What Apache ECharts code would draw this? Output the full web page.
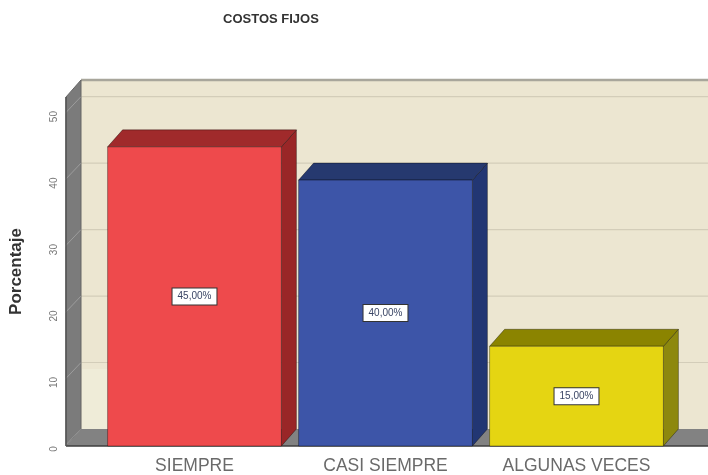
<!DOCTYPE html>
<html><head><meta charset="utf-8">
<script src="https://cdn.jsdelivr.net/npm/echarts@6/dist/echarts.min.js"></script>
<style>html,body{margin:0;padding:0;background:#fff}#c{width:708px;height:475px}</style>
</head><body><div id="c"></div>
<script>
const categories = ['SIEMPRE', 'CASI SIEMPRE', 'ALGUNAS VECES'];
const values = [45, 40, 15];
const valueLabels = ['45,00%', '40,00%', '15,00%'];
const yTicks = [0, 10, 20, 30, 40, 50];
const yMax = 52.5;
const faceColors = ['#EE4A4C', '#3D55A8', '#E5D512'];
const topColors = ['#A02A2B', '#26396F', '#8B8400'];
const sideColors = ['#992627', '#223673', '#8D880E'];

const DX = 15, DY = -17;
const chart = echarts.init(document.getElementById('c'), null, {renderer: 'canvas'});

function renderWalls(params, api) {
  const cs = params.coordSys;
  const x0 = cs.x - 33;
  const xr = cs.x + cs.width + 80;
  const yb = api.coord([0, 0])[1];
  const yt = api.coord([0, yMax])[1];
  const ch = [];
  ch.push({type: 'polygon', shape: {points: [[x0 + DX, yt + DY], [xr, yt + DY], [xr, yb + DY], [x0 + DX, yb + DY]]},
    style: {fill: '#ECE6D1'}});
  ch.push({type: 'rect', shape: {x: x0 + DX + 1, y: yb + DY - 60, width: 26, height: 60},
    style: {fill: 'rgba(245,245,225,0.45)'}});
  yTicks.forEach(function (t) {
    if (t === 0) return;
    const y = api.coord([0, t])[1] + DY;
    ch.push({type: 'line', shape: {x1: x0 + DX, y1: y, x2: xr, y2: y}, style: {stroke: '#D3CDB9', lineWidth: 1.2}});
  });
  ch.push({type: 'line', shape: {x1: x0 + DX, y1: yt + DY, x2: xr, y2: yt + DY}, style: {stroke: '#A8A69B', lineWidth: 2.5}});
  ch.push({type: 'polygon', shape: {points: [[x0, yt], [x0 + DX, yt + DY], [x0 + DX, yb + DY], [x0, yb]]},
    style: {fill: '#7B7B7B', stroke: '#666', lineWidth: 1}});
  yTicks.forEach(function (t) {
    const y = api.coord([0, t])[1];
    ch.push({type: 'line', shape: {x1: x0 - 4, y1: y + 3, x2: x0 + DX, y2: y + DY}, style: {stroke: 'rgba(255,255,255,0.25)', lineWidth: 1}});
  });
  ch.push({type: 'polygon', shape: {points: [[x0, yb], [x0 + DX, yb + DY], [xr, yb + DY], [xr, yb]]},
    style: {fill: '#828282'}});
  ch.push({type: 'line', shape: {x1: x0, y1: yb, x2: xr, y2: yb}, style: {stroke: '#3E3E3E', lineWidth: 1.5}});
  ch.push({type: 'line', shape: {x1: x0, y1: yt, x2: x0, y2: yb}, style: {stroke: '#555', lineWidth: 1.5}});
  return {type: 'group', children: ch};
}

function renderBars(params, api) {
  const i = api.value(0);
  const p0 = api.coord([i, 0]);
  const p1 = api.coord([i, api.value(1)]);
  const bw = api.size([1, 0])[0] * 0.91;
  const xl = p0[0] - bw / 2, xr = p0[0] + bw / 2, yb = p0[1], yt = p1[1];
  return {type: 'group', children: [
    {type: 'polygon', shape: {points: [[xr, yt], [xr + DX, yt + DY], [xr + DX, yb + DY], [xr, yb]]},
      style: {fill: sideColors[i], stroke: 'rgba(0,0,0,0.35)', lineWidth: 1}},
    {type: 'polygon', shape: {points: [[xl, yt], [xl + DX, yt + DY], [xr + DX, yt + DY], [xr, yt]]},
      style: {fill: topColors[i], stroke: 'rgba(0,0,0,0.35)', lineWidth: 1}},
    {type: 'rect', shape: {x: xl, y: yt, width: bw, height: yb - yt},
      style: {fill: faceColors[i], stroke: 'rgba(0,0,0,0.35)', lineWidth: 1}},
    {type: 'text', style: {text: valueLabels[i], x: p0[0], y: (yt + yb) / 2, align: 'center', verticalAlign: 'middle',
      fill: '#3A4565', font: '10px "Liberation Sans", Arial, sans-serif', backgroundColor: '#fff',
      borderColor: '#333', borderWidth: 1, padding: [3, 5]}}
  ]};
}

chart.setOption({
  animation: false,
  title: {text: 'COSTOS FIJOS', left: 218, top: 8,
    textStyle: {fontSize: 13, fontWeight: 'bold', color: '#333', fontFamily: '"Liberation Sans", Arial, sans-serif'}},
  grid: {left: 97, right: 36, top: 97, bottom: 29},
  xAxis: {type: 'category', data: categories,
    axisLine: {show: false}, axisTick: {show: false}, splitLine: {show: false},
    axisLabel: {interval: 0, hideOverlap: false, fontSize: 17.5, color: '#6A6A6A', margin: 11,
      fontFamily: '"Liberation Sans", Arial, sans-serif'}},
  yAxis: {type: 'value', min: 0, max: yMax, interval: 10,
    axisLine: {show: false}, axisTick: {show: false}, splitLine: {show: false},
    axisLabel: {rotate: 90, fontSize: 10, color: '#777', margin: 40, padding: [0, 6, 0, 0],
      formatter: function (v) { return yTicks.indexOf(v) >= 0 ? String(v) : ''; }},
    name: 'Porcentaje', nameLocation: 'middle', nameRotate: 90, nameGap: 74,
    nameTextStyle: {fontSize: 17, fontWeight: 'bold', color: '#333', fontFamily: '"Liberation Sans", Arial, sans-serif'}},
  series: [
    {type: 'custom', renderItem: renderWalls, data: [[0, 0]], silent: true, z: 1},
    {type: 'custom', renderItem: renderBars, data: values.map(function (v, i) { return [i, v]; }), z: 2}
  ]
});
</script></body></html>
